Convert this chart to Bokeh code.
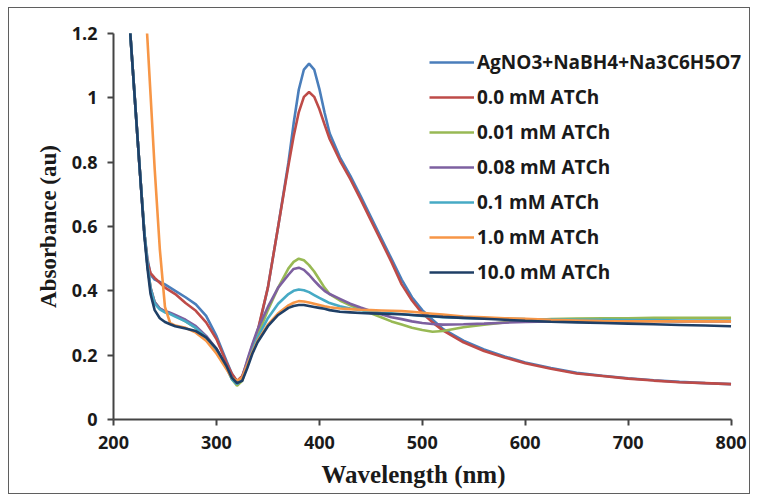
from bokeh.plotting import figure
from bokeh.models import Legend, LegendItem, FixedTicker, Title
from bokeh.embed import file_html
from bokeh.resources import INLINE

# ---- data ----
wavelength = [215, 220, 225, 230, 233, 236, 240, 245, 250, 255,
              260, 270, 280, 290, 300, 310, 315, 320, 325, 330,
              335, 340, 350, 360, 370, 375, 380, 385, 390, 395,
              400, 405, 410, 420, 430, 440, 450, 460, 470, 480,
              490, 500, 510, 520, 540, 560, 580, 600, 625, 650,
              675, 700, 725, 750, 775, 800]

ag_citrate = [1.26, 1.03, 0.80, 0.58, 0.50, 0.45, 0.435, 0.428, 0.42, 0.41,
              0.40, 0.38, 0.358, 0.322, 0.26, 0.18, 0.142, 0.118, 0.13, 0.175,
              0.225, 0.27, 0.41, 0.60, 0.80, 0.92, 1.025, 1.088, 1.106, 1.088,
              1.028, 0.955, 0.89, 0.815, 0.758, 0.695, 0.63, 0.565, 0.50, 0.435,
              0.38, 0.34, 0.31, 0.282, 0.245, 0.218, 0.196, 0.177, 0.16, 0.145,
              0.136, 0.128, 0.122, 0.117, 0.113, 0.11]

atch_0_0 = [1.26, 1.03, 0.80, 0.58, 0.49, 0.455, 0.44, 0.425, 0.41, 0.40,
            0.39, 0.362, 0.338, 0.302, 0.25, 0.175, 0.142, 0.12, 0.135, 0.18,
            0.23, 0.275, 0.41, 0.60, 0.79, 0.88, 0.955, 1.003, 1.018, 1.003,
            0.965, 0.918, 0.872, 0.805, 0.748, 0.685, 0.62, 0.555, 0.49, 0.42,
            0.37, 0.33, 0.302, 0.277, 0.24, 0.213, 0.193, 0.175, 0.158, 0.143,
            0.135, 0.127, 0.121, 0.116, 0.113, 0.11]

atch_0_01 = [1.26, 1.03, 0.80, 0.58, 0.48, 0.41, 0.365, 0.345, 0.335, 0.33,
             0.322, 0.305, 0.285, 0.255, 0.215, 0.16, 0.125, 0.105, 0.12, 0.17,
             0.22, 0.26, 0.34, 0.41, 0.47, 0.49, 0.50, 0.495, 0.48, 0.46,
             0.435, 0.41, 0.39, 0.37, 0.355, 0.343, 0.33, 0.318, 0.305, 0.295,
             0.285, 0.278, 0.273, 0.275, 0.287, 0.295, 0.302, 0.308, 0.312, 0.314,
             0.315, 0.315, 0.316, 0.316, 0.316, 0.316]

atch_0_08 = [1.26, 1.03, 0.80, 0.58, 0.48, 0.41, 0.365, 0.345, 0.337, 0.332,
             0.325, 0.31, 0.29, 0.26, 0.22, 0.165, 0.13, 0.11, 0.13, 0.185,
             0.235, 0.28, 0.35, 0.41, 0.45, 0.468, 0.472, 0.465, 0.45, 0.432,
             0.415, 0.40, 0.39, 0.375, 0.36, 0.348, 0.337, 0.327, 0.318, 0.312,
             0.305, 0.30, 0.297, 0.295, 0.296, 0.298, 0.301, 0.303, 0.305, 0.306,
             0.306, 0.306, 0.306, 0.305, 0.305, 0.305]

atch_0_1 = [1.26, 1.03, 0.80, 0.58, 0.48, 0.405, 0.36, 0.342, 0.333, 0.328,
            0.32, 0.305, 0.285, 0.255, 0.215, 0.16, 0.125, 0.11, 0.125, 0.17,
            0.215, 0.255, 0.315, 0.36, 0.39, 0.40, 0.404, 0.402, 0.396, 0.387,
            0.378, 0.37, 0.362, 0.352, 0.345, 0.34, 0.336, 0.332, 0.33, 0.327,
            0.325, 0.322, 0.32, 0.318, 0.316, 0.314, 0.313, 0.312, 0.311, 0.31,
            0.31, 0.309, 0.309, 0.308, 0.308, 0.308]

atch_1_0 = [2.16, 1.89, 1.62, 1.345, 1.18, 1.01, 0.78, 0.53, 0.35, 0.30,
            0.292, 0.285, 0.27, 0.245, 0.205, 0.155, 0.13, 0.12, 0.13, 0.17,
            0.21, 0.245, 0.295, 0.33, 0.355, 0.363, 0.368, 0.367, 0.364, 0.36,
            0.356, 0.352, 0.349, 0.345, 0.343, 0.341, 0.34, 0.339, 0.338, 0.337,
            0.335, 0.332, 0.329, 0.326, 0.32, 0.318, 0.315, 0.313, 0.31, 0.308,
            0.306, 0.305, 0.305, 0.305, 0.305, 0.305]

atch_10_0 = [1.26, 1.03, 0.80, 0.57, 0.47, 0.39, 0.34, 0.315, 0.303, 0.296,
             0.29, 0.283, 0.275, 0.255, 0.22, 0.165, 0.13, 0.113, 0.12, 0.16,
             0.205, 0.24, 0.29, 0.325, 0.347, 0.353, 0.356, 0.356, 0.353, 0.35,
             0.347, 0.344, 0.34, 0.335, 0.333, 0.331, 0.33, 0.329, 0.328, 0.327,
             0.325, 0.323, 0.321, 0.319, 0.316, 0.313, 0.31, 0.307, 0.304, 0.302,
             0.30, 0.298, 0.296, 0.294, 0.292, 0.29]

series_names = ["AgNO3+NaBH4+Na3C6H5O7", "0.0 mM ATCh", "0.01 mM ATCh",
                "0.08 mM ATCh", "0.1 mM ATCh", "1.0 mM ATCh", "10.0 mM ATCh"]
series_values = [ag_citrate, atch_0_0, atch_0_01, atch_0_08, atch_0_1, atch_1_0, atch_10_0]
series_colors = ["#4A7EBB", "#BE4B48", "#98B954", "#7D60A0", "#46AAC5", "#F79646", "#1F3F66"]

x_ticks = [200, 300, 400, 500, 600, 700, 800]
y_ticks = [0, 0.2, 0.4, 0.6, 0.8, 1, 1.2]
y_tick_labels = ["0", "0.2", "0.4", "0.6", "0.8", "1", "1.2"]

TICK_FONT = "Open Sans"
SERIF = "Liberation Serif"

p = figure(width=742, height=487, x_range=(200, 816), y_range=(0, 1.2),
           output_backend="svg", toolbar_location=None,
           min_border_left=104, min_border_right=4,
           min_border_top=25, min_border_bottom=76)
p.margin = (7, 0, 0, 8)
p.styles = {"border": "1px solid #5f5f5f"}
p.outline_line_color = None
p.xgrid.visible = False
p.ygrid.visible = False
p.background_fill_color = "white"
p.border_fill_color = "white"

items = []
for name, vals, col in zip(series_names, series_values, series_colors):
    r = p.line(wavelength, vals, line_color=col, line_width=2.6)
    items.append(LegendItem(label=name, renderers=[r]))

for ax in (p.xaxis[0], p.yaxis[0]):
    ax.axis_line_color = "#444444"
    ax.axis_line_width = 2
    ax.major_tick_line_color = "#444444"
    ax.major_tick_line_width = 2
    ax.major_tick_out = 6
    ax.major_tick_in = 0
    ax.minor_tick_line_color = None
    ax.major_label_text_font = TICK_FONT
    ax.major_label_text_font_style = "bold"
    ax.major_label_text_font_size = "18px"
    ax.major_label_text_color = "#1a1a1a"
    ax.axis_label_text_font = SERIF
    ax.axis_label_text_font_style = "bold"
    ax.axis_label_text_color = "#1a1a1a"

p.xaxis.bounds = (200, 800)
p.xaxis.ticker = FixedTicker(ticks=x_ticks)
p.yaxis.ticker = FixedTicker(ticks=y_ticks)
p.yaxis.major_label_overrides = {str(t): l for t, l in zip(y_ticks, y_tick_labels)}
p.xaxis.major_label_standoff = 10
p.yaxis.major_label_standoff = 10
p.yaxis.axis_label = "Absorbance (au)"
p.yaxis.axis_label_text_font_size = "23px"
p.yaxis.axis_label_standoff = 8

xlabel = Title(text="Wavelength (nm)", align="left", offset=208,
               text_font=SERIF, text_font_style="bold", text_font_size="25px",
               text_color="#1a1a1a", standoff=14)
p.add_layout(xlabel, "below")

legend = Legend(items=items, location=(316, 134), orientation="vertical",
                background_fill_alpha=0, border_line_color=None,
                padding=0, margin=0, spacing=9,
                glyph_width=45, glyph_height=24, label_height=23,
                label_standoff=3,
                label_text_font=TICK_FONT, label_text_font_style="bold",
                label_text_font_size="19px", label_text_color="#1a1a1a")
p.add_layout(legend)

open("out.html", "w").write(file_html(p, INLINE))
